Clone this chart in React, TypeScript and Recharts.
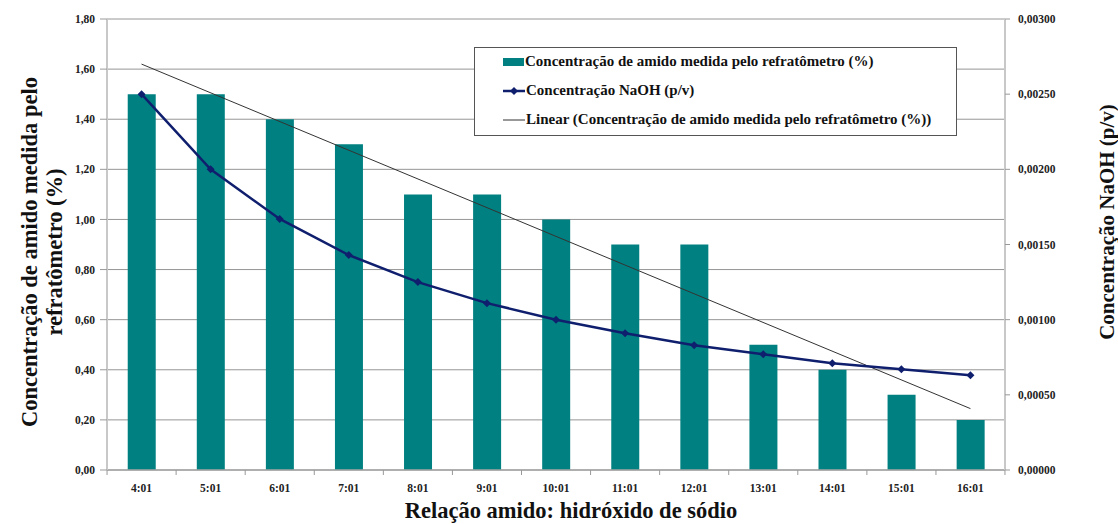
import { ComposedChart, Bar, Line, XAxis, YAxis, CartesianGrid } from 'recharts';

const categories = ['4:01', '5:01', '6:01', '7:01', '8:01', '9:01', '10:01', '11:01', '12:01', '13:01', '14:01', '15:01', '16:01'];
const amido = [1.5, 1.5, 1.4, 1.3, 1.1, 1.1, 1.0, 0.9, 0.9, 0.5, 0.4, 0.3, 0.2];
const naoh = [0.0025, 0.002, 0.00167, 0.00143, 0.00125, 0.00111, 0.001, 0.00091, 0.00083, 0.00077, 0.00071, 0.00067, 0.00063];
// trendline endpoints
const trend = [1.62, null, null, null, null, null, null, null, null, null, null, null, 0.245];
const leftTicks = [0, 0.2, 0.4, 0.6, 0.8, 1.0, 1.2, 1.4, 1.6, 1.8];
const rightTicks = [0, 0.0005, 0.001, 0.0015, 0.002, 0.0025, 0.003];

const FONT = '"Liberation Serif", "DejaVu Serif", serif';
const TEAL = '#008080';
const NAVY = '#0f1f6e';

const data = categories.map((c, i) => ({ cat: c, amido: amido[i], naoh: naoh[i], trend: trend[i] }));

const Diamond = (props: any) => {
  const { cx, cy } = props;
  if (cx == null || cy == null) return null;
  return <path d={`M${cx},${cy - 4} L${cx + 4},${cy} L${cx},${cy + 4} L${cx - 4},${cy} Z`} fill={NAVY} />;
};

const XTick = (props: any) => {
  const { x, y, payload, index } = props;
  const half = 34.5;
  return (
    <g>
      <line x1={x - half} y1={y - 8} x2={x - half} y2={y - 3} stroke="#999" />
      {index === categories.length - 1 && <line x1={x + half} y1={y - 8} x2={x + half} y2={y - 3} stroke="#999" />}
      <text x={x} y={y + 14} textAnchor="middle" fontFamily={FONT} fontWeight="bold" fontSize={11.5} fill="#222">
        {payload.value}
      </text>
    </g>
  );
};

const tickStyle = { fontFamily: FONT, fontWeight: 'bold', fontSize: 11.5, fill: '#222' };

export default function App() {
  return (
    <div style={{ position: 'absolute', left: 0, top: 0, width: 1118, height: 524, background: '#fff', fontFamily: FONT }}>
      <ComposedChart width={1118} height={524} data={data} margin={{ top: 19, right: 0, bottom: 0, left: 0 }} barCategoryGap="30%">
        <CartesianGrid vertical={false} stroke="#969696" yAxisId="left" />
        <XAxis
          dataKey="cat"
          tick={<XTick />}
          tickLine={false}
          axisLine={{ stroke: '#a6a6a6', strokeWidth: 1.5 }}
          height={54}
        />
        <YAxis
          yAxisId="left"
          domain={[0, 1.8]}
          ticks={leftTicks}
          width={107}
          tickSize={7}
          tickMargin={5}
          tick={tickStyle}
          tickLine={{ stroke: '#999' }}
          axisLine={{ stroke: '#c8c8c8', strokeWidth: 2 }}
          tickFormatter={(v: number) => v.toFixed(2).replace('.', ',')}
        />
        <YAxis
          yAxisId="right"
          orientation="right"
          domain={[0, 0.003]}
          ticks={rightTicks}
          width={113}
          tickSize={5}
          tickMargin={8}
          tick={{ ...tickStyle, textAnchor: 'start' }}
          tickLine={{ stroke: '#999' }}
          axisLine={{ stroke: '#c8c8c8', strokeWidth: 2 }}
          tickFormatter={(v: number) => v.toFixed(5).replace('.', ',')}
        />
        <Bar yAxisId="left" dataKey="amido" fill={TEAL} isAnimationActive={false} />
        <Line yAxisId="left" dataKey="trend" stroke="#333" strokeWidth={1} dot={false} connectNulls isAnimationActive={false} />
        <Line yAxisId="right" dataKey="naoh" stroke={NAVY} strokeWidth={2.5} dot={<Diamond />} activeDot={false} isAnimationActive={false} />
      </ComposedChart>

      {/* legend */}
      <div
        style={{
          position: 'absolute', left: 474, top: 47, width: 481, height: 87,
          border: '1px solid #555', background: '#fff', fontWeight: 'bold', fontSize: 15, color: '#111',
        }}
      >
        <div style={{ position: 'absolute', left: 28, top: 5, display: 'flex', alignItems: 'center', whiteSpace: 'nowrap' }}>
          <span style={{ display: 'inline-block', width: 21, height: 8, background: TEAL, marginRight: 1 }} />
          Concentração de amido medida pelo refratômetro (%)
        </div>
        <div style={{ position: 'absolute', left: 28, top: 34, display: 'flex', alignItems: 'center', whiteSpace: 'nowrap' }}>
          <svg width={22} height={10} style={{ marginRight: 1 }}>
            <line x1={0} y1={5} x2={22} y2={5} stroke={NAVY} strokeWidth={2.5} />
            <path d="M11,1 L15,5 L11,9 L7,5 Z" fill={NAVY} />
          </svg>
          Concentração NaOH (p/v)
        </div>
        <div style={{ position: 'absolute', left: 28, top: 63, display: 'flex', alignItems: 'center', whiteSpace: 'nowrap' }}>
          <svg width={22} height={10} style={{ marginRight: 1 }}>
            <line x1={0} y1={5} x2={22} y2={5} stroke="#333" strokeWidth={1} />
          </svg>
          Linear (Concentração de amido medida pelo refratômetro (%))
        </div>
      </div>

      {/* left axis title */}
      <div
        style={{
          position: 'absolute', left: 42, top: 252, width: 420, transform: 'translate(-50%, -50%) rotate(-90deg)',
          textAlign: 'center', fontWeight: 'bold', fontSize: 22.5, lineHeight: '25px', color: '#111', whiteSpace: 'nowrap',
        }}
      >
        <div>Concentração de amido medida pelo</div>
        <div>refratômetro (%)</div>
      </div>

      {/* right axis title */}
      <div
        style={{
          position: 'absolute', left: 1107, top: 222, width: 300, transform: 'translate(-50%, -50%) rotate(-90deg)',
          textAlign: 'center', fontWeight: 'bold', fontSize: 21, color: '#111', whiteSpace: 'nowrap',
        }}
      >
        Concentração NaOH (p/v)
      </div>

      {/* x axis title */}
      <div
        style={{
          position: 'absolute', left: 571, top: 511, transform: 'translate(-50%, -50%)',
          fontWeight: 'bold', fontSize: 22.5, color: '#111', whiteSpace: 'nowrap',
        }}
      >
        Relação amido: hidróxido de sódio
      </div>
    </div>
  );
}
